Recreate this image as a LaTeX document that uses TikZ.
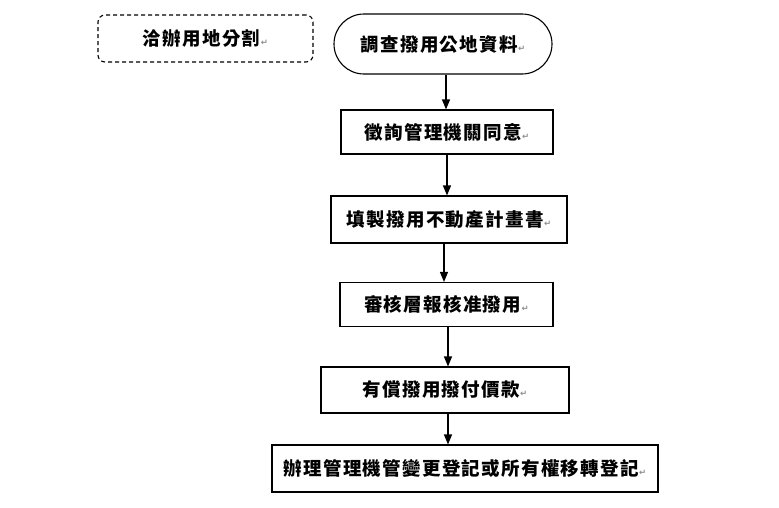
\documentclass[tikz,border=0pt]{standalone}
\usepackage{fontspec}
\newfontfamily\cjk{Noto Sans CJK TC}[LetterSpace=7]
\newfontfamily\sym{DejaVu Sans}
\usetikzlibrary{arrows.meta}
\newcommand{\pmark}{{\sym\fontsize{8.5}{8.5}\selectfont\color{black!45}\kern0.5pt↵}}
\tikzset{
  lbl/.style={font=\cjk\bfseries\fontsize{18.5}{20}\selectfont, inner sep=0pt, line width=1.1pt},
  stepbox/.style={lbl, draw, rectangle},
  startbox/.style={lbl, draw, rectangle, rounded corners=30pt},
  notebox/.style={lbl, draw, rectangle, rounded corners=7pt, dash pattern=on 4pt off 3pt},
  arr/.style={line width=1.1pt, -{Triangle[length=10pt,width=8pt]}}
}
\begin{document}
\begin{tikzpicture}[x=1pt,y=-1pt]
\useasboundingbox (0,0) rectangle (779,507);
\node[notebox, minimum width=215pt, minimum height=47pt] (n0) at (205.5,38.5) {洽辦用地分割\pmark};
\node[startbox, minimum width=218pt, minimum height=60pt] (b1) at (443,44) {調查撥用公地資料\pmark};
\node[stepbox, minimum width=212pt, minimum height=44pt] (b2) at (447,132) {徵詢管理機關同意\pmark};
\node[stepbox, minimum width=236pt, minimum height=47pt] (b3) at (449,219.5) {填製撥用不動產計畫書\pmark};
\node[stepbox, minimum width=213pt, minimum height=44pt] (b4) at (446.5,304.5) {審核層報核准撥用\pmark};
\node[stepbox, minimum width=248pt, minimum height=46pt] (b5) at (445,390) {有償撥用撥付價款\pmark};
\node[stepbox, minimum width=386pt, minimum height=47pt] (b6) at (465,468.5) {辦理管理機管變更登記或所有權移轉登記\pmark};
\draw[arr] ([xshift=3pt]b1.south) -- ([xshift=3pt]b1.south |- b2.north);
\draw[arr] (b2.south) -- (b2.south |- b3.north);
\draw[arr] ([xshift=-3pt]b2.south |- b3.south) -- ([xshift=-3pt]b2.south |- b4.north);
\draw[arr] ([xshift=1.5pt]b4.south) -- ([xshift=1.5pt]b4.south |- b5.north);
\draw[arr] ([xshift=1.5pt]b4.south |- b5.south) -- ([xshift=1.5pt]b4.south |- b6.north);
\end{tikzpicture}
\end{document}
